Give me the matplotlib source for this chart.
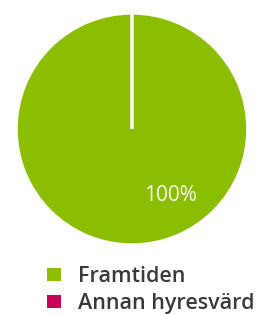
import matplotlib
matplotlib.use("Agg")
import matplotlib.pyplot as plt
from matplotlib.patches import Patch

categories = ["Framtiden", "Annan hyresvärd"]
values = [100, 0]
colors = ["#8CBE00", "#C8005A"]
label_text = "100%"

fig = plt.figure(figsize=(2.56, 3.15), dpi=100)
ax = fig.add_axes([0.0625, 0.222, 0.906, 0.737])
wedges, _ = ax.pie(values, colors=colors, startangle=90, counterclock=False,
                   wedgeprops=dict(edgecolor="white", linewidth=2.5),
                   radius=1.0)
ax.set_xlim(-1, 1)
ax.set_ylim(-1, 1)
ax.set_aspect("auto")
ax.text(0.33, -0.57, label_text, ha="center", va="center", color="#F4F8E8",
        fontsize=15, family="Open Sans")

handles = [Patch(facecolor=c, edgecolor="none") for c in colors]
leg = fig.legend(handles, categories, loc="upper left",
                 bbox_to_anchor=(0.184, 0.156), frameon=False,
                 handlelength=0.65, handleheight=0.55, handletextpad=0.8,
                 labelspacing=0.28, borderaxespad=0, borderpad=0,
                 prop=dict(family="Open Sans", size=15.5, weight="semibold"))
for t in leg.get_texts():
    t.set_color("#3A3A3A")

fig.savefig("out.png", dpi=100, facecolor="white")
